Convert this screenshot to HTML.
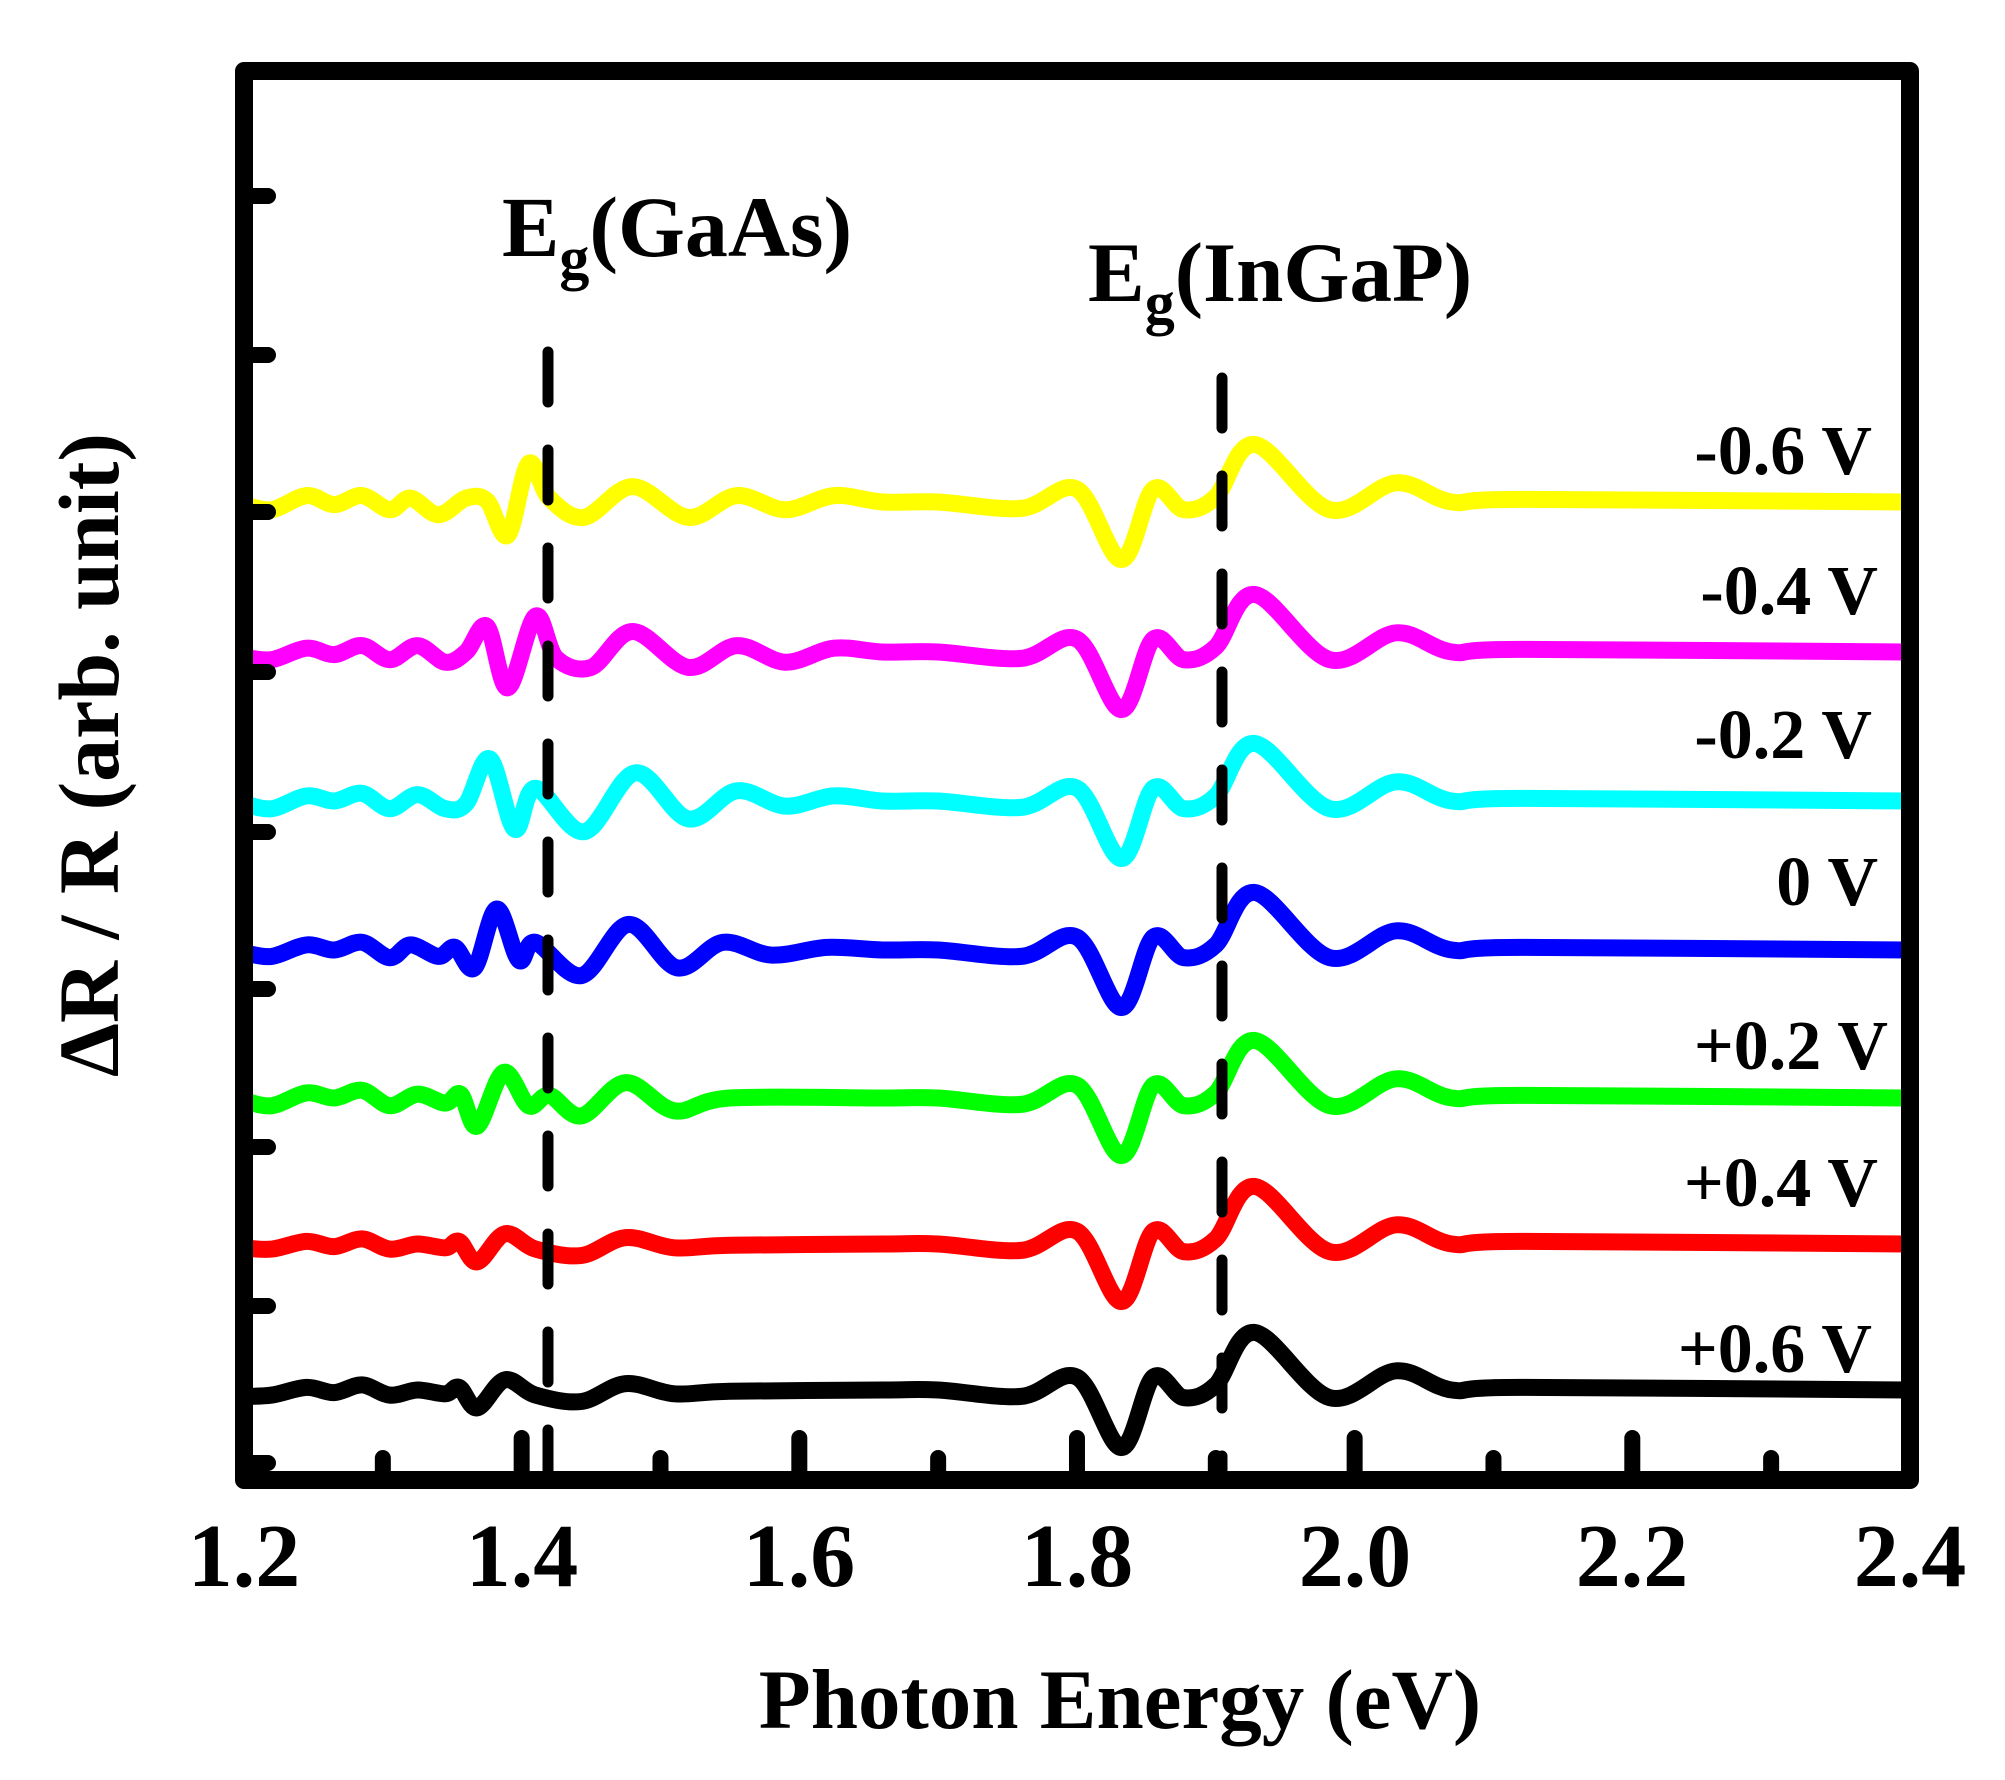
<!DOCTYPE html>
<html><head><meta charset="utf-8"><style>
html,body{margin:0;padding:0;background:#fff;}
svg{display:block;}
text{font-family:"Liberation Serif",serif;font-weight:bold;fill:#000;}
</style></head><body>
<svg id="s" width="2005" height="1780" viewBox="0 0 2005 1780" xmlns="http://www.w3.org/2000/svg">
<g id="curves" fill="none" stroke-width="17" stroke-linejoin="round" stroke-linecap="butt"></g>
<line x1="548" y1="352" x2="548" y2="1470" stroke="#000" stroke-width="11" stroke-dasharray="50 48" stroke-linecap="round"/>
<line x1="1222" y1="378" x2="1222" y2="1470" stroke="#000" stroke-width="11" stroke-dasharray="50 48" stroke-linecap="round"/>
<g id="ticks" stroke="#000" stroke-width="16" stroke-linecap="round"></g>
<rect x="244" y="71" width="1666" height="1409" fill="none" stroke="#000" stroke-width="18" stroke-linejoin="round"/>
<g font-size="90" text-anchor="middle">
<text x="244" y="1586">1.2</text><text x="522" y="1586">1.4</text><text x="799" y="1586">1.6</text>
<text x="1077" y="1586">1.8</text><text x="1355" y="1586">2.0</text><text x="1632" y="1586">2.2</text><text x="1910" y="1586">2.4</text>
</g>
<text x="1120" y="1728" font-size="85" text-anchor="middle">Photon Energy (eV)</text>
<text transform="translate(118,755) rotate(-90)" font-size="86" text-anchor="middle">ΔR / R (arb. unit)</text>
<text x="502" y="256" font-size="86">E<tspan font-size="60" dy="22">g</tspan><tspan dy="-22">(GaAs)</tspan></text>
<text x="1088" y="301" font-size="85">E<tspan font-size="60" dy="22">g</tspan><tspan dy="-22">(InGaP)</tspan></text>
<g font-size="70" text-anchor="end">
<text x="1872" y="474">-0.6 V</text>
<text x="1878" y="614">-0.4 V</text>
<text x="1872" y="758">-0.2 V</text>
<text x="1878" y="905">0 V</text>
<text x="1888" y="1069">+0.2 V</text>
<text x="1878" y="1206">+0.4 V</text>
<text x="1872" y="1372">+0.6 V</text>
</g>
</svg>
<script>
var NS="http://www.w3.org/2000/svg";
function X(E){return 244+(E-1.2)*1388.3;}
var tk=document.getElementById("ticks");
function ln(x1,y1,x2,y2){var l=document.createElementNS(NS,"line");l.setAttribute("x1",x1);l.setAttribute("y1",y1);l.setAttribute("x2",x2);l.setAttribute("y2",y2);tk.appendChild(l);}
for(var i=0;i<=12;i++){var E=1.2+i*0.1;var x=X(E);if(i%2==0){ln(x,1476,x,1438);}else{ln(x,1476,x,1458);}}
[196,355,512,672,832,989,1147,1306,1463].forEach(function(y){ln(248,y,268,y);});
var mainT=[[1.70,0],[1.76,5],[1.80,-10],[1.832,45],[1.855,-10],[1.877,6],[1.90,-4],[1.928,-45],[1.982,6],[2.03,-15],[2.07,0],[2.12,-2],[2.398,0]];
var curves=[
{c:"#ffff00",b:502,p:[[1.2,2],[1.22,6],[1.245,-5],[1.265,2],[1.285,-5],[1.305,6],[1.32,-3],[1.34,10],[1.36,-3],[1.375,-1],[1.39,26],[1.405,-30],[1.42,-3],[1.445,12],[1.48,-12],[1.52,12],[1.555,-5],[1.59,6],[1.625,-5],[1.66,0]]},
{c:"#ff00ff",b:652,p:[[1.2,4],[1.22,6],[1.245,-3],[1.265,2],[1.285,-5],[1.305,6],[1.325,-5],[1.345,8],[1.36,0],[1.375,-20],[1.39,28],[1.41,-28],[1.425,5],[1.45,12],[1.48,-16],[1.52,12],[1.555,-5],[1.59,8],[1.625,-3],[1.66,0]]},
{c:"#00ffff",b:801,p:[[1.2,2],[1.22,6],[1.245,-4],[1.265,0],[1.285,-6],[1.305,6],[1.325,-5],[1.345,6],[1.36,2],[1.377,-33],[1.395,22],[1.41,-10],[1.445,24],[1.482,-22],[1.52,14],[1.555,-8],[1.59,4],[1.625,-4],[1.66,0]]},
{c:"#0000ff",b:950,p:[[1.2,2],[1.22,5],[1.245,-4],[1.265,0],[1.285,-6],[1.305,6],[1.32,-4],[1.34,5],[1.352,-2],[1.366,14],[1.382,-32],[1.398,8],[1.41,-6],[1.443,20],[1.477,-20],[1.512,14],[1.545,-6],[1.58,4],[1.62,-2],[1.66,0]]},
{c:"#00ff00",b:1098,p:[[1.2,2],[1.22,6],[1.245,-4],[1.265,0],[1.285,-6],[1.305,6],[1.325,-3],[1.345,4],[1.356,-3],[1.368,22],[1.387,-20],[1.405,6],[1.42,-2],[1.443,14],[1.475,-12],[1.51,10],[1.55,0],[1.66,0]]},
{c:"#ff0000",b:1244,p:[[1.2,3],[1.22,4],[1.245,-2],[1.265,2],[1.285,-4],[1.305,4],[1.325,0],[1.345,3],[1.355,-2],[1.368,14],[1.388,-8],[1.41,4],[1.443,9],[1.475,-5],[1.51,3],[1.55,1],[1.66,0]]},
{c:"#000000",b:1390,p:[[1.2,5],[1.22,4],[1.245,-2],[1.265,2],[1.285,-4],[1.305,4],[1.325,0],[1.345,3],[1.355,-2],[1.368,14],[1.388,-8],[1.41,4],[1.443,9],[1.475,-5],[1.51,3],[1.55,1],[1.66,0]]}
];
var g=document.getElementById("curves");
curves.forEach(function(cv,ci){
 var pts=cv.p.concat(mainT).map(function(q){return [X(q[0]),cv.b+q[1]*1.28];});
 var d="M"+pts[0][0].toFixed(1)+","+pts[0][1].toFixed(1);
 for(var i=0;i<pts.length-1;i++){
  var p0=pts[i-1]||pts[i],p1=pts[i],p2=pts[i+1],p3=pts[i+2]||pts[i+1];
  var c1=[p1[0]+(p2[0]-p0[0])/6,p1[1]+(p2[1]-p0[1])/6];
  var c2=[p2[0]-(p3[0]-p1[0])/6,p2[1]-(p3[1]-p1[1])/6];
  d+="C"+c1[0].toFixed(1)+","+c1[1].toFixed(1)+" "+c2[0].toFixed(1)+","+c2[1].toFixed(1)+" "+p2[0].toFixed(1)+","+p2[1].toFixed(1);
 }
 var p=document.createElementNS(NS,"path");p.setAttribute("d",d);p.setAttribute("stroke",cv.c);g.appendChild(p);
});
</script>
</body></html>
